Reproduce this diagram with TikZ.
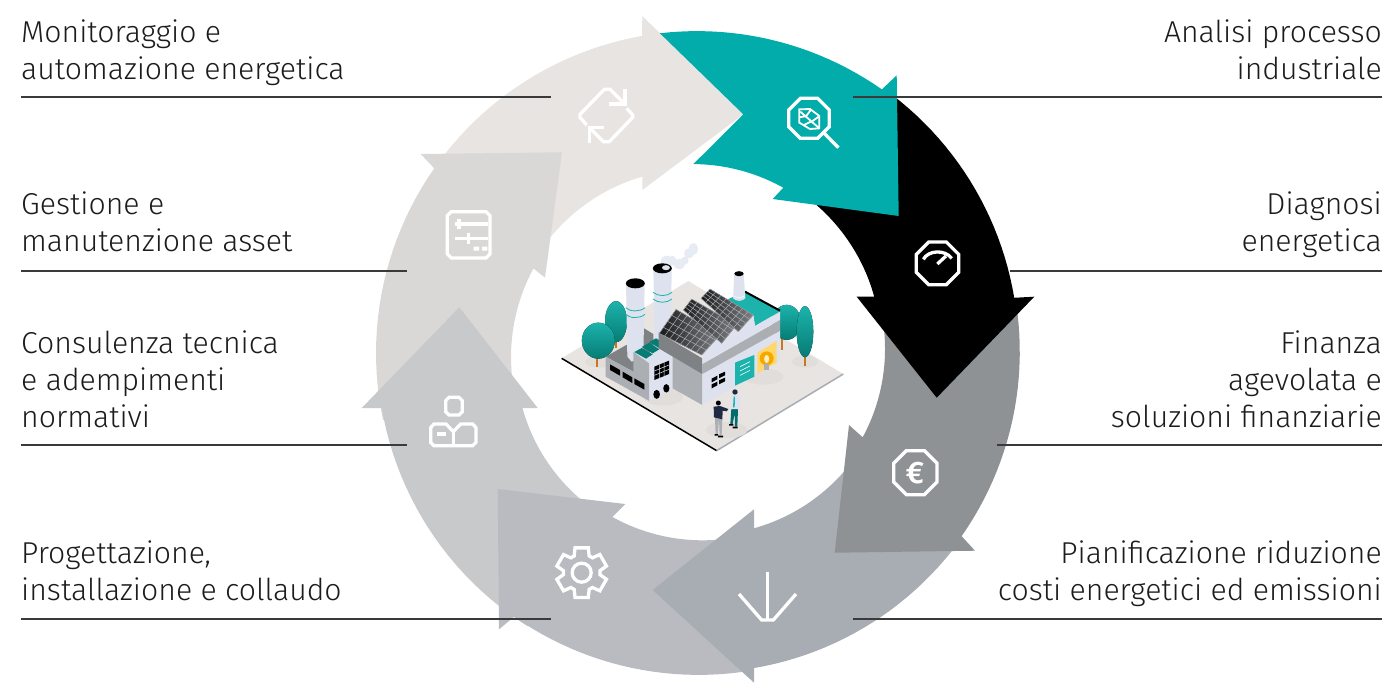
\documentclass[tikz,border=0pt]{standalone}
\usepackage{fontspec}
\setmainfont{Fira Sans}[UprightFont=* Light,BoldFont=* SemiBold]
\usetikzlibrary{calc}
\definecolor{cteal}{HTML}{02ACAA}
\definecolor{cgrey}{HTML}{8F9295}
\definecolor{cblue}{HTML}{A8ADB3}
\definecolor{cgear}{HTML}{B9BBC0}
\definecolor{cpers}{HTML}{C8C9CB}
\definecolor{cslid}{HTML}{DAD7D7}
\definecolor{cbeig}{HTML}{E8E4E1}
\definecolor{ftext}{HTML}{1C1C1C}
\definecolor{frule}{HTML}{3A3A3A}
\definecolor{wall}{HTML}{DDE2EE}
\definecolor{wallm}{HTML}{ABAEB3}
\definecolor{walld}{HTML}{7F8285}
\definecolor{tlight}{HTML}{1CB3AC}
\definecolor{tdark}{HTML}{067C74}
\definecolor{trunk}{HTML}{C9761F}
\definecolor{navy}{HTML}{1F2A44}
\definecolor{shadow}{HTML}{E1DDDA}
\definecolor{lamp}{HTML}{FFD76A}
\definecolor{bulb}{HTML}{F5A800}
\newcommand\RingArc[4]{plot[domain=0:1,samples=24] ({698+(#2+(#4-#2)*\x)*cos(#1+(#3-#1)*\x)},{353+(#2+(#4-#2)*\x)*sin(#1+(#3-#1)*\x)})}
\newcommand\RingTo[4]{-- plot[domain=0:1,samples=24] ({698+(#2+(#4-#2)*\x)*cos(#1+(#3-#1)*\x)},{353+(#2+(#4-#2)*\x)*sin(#1+(#3-#1)*\x)})}
\newcommand\SolarPanel[4]{%
  \fill[left color=black!85!wallm,right color=walld] (#1)--(#2)--(#3)--(#4)--cycle;
  \foreach \t in {0,0.25,...,1.01}{\draw[panelgrid] ($(#1)!\t!(#2)$)--($(#4)!\t!(#3)$);}
  \foreach \t in {0,0.125,...,1.01}{\draw[panelgrid] ($(#1)!\t!(#4)$)--($(#2)!\t!(#3)$);}
}
\newcommand\Lab[1]{\begin{tabular}[t]{@{}l@{}}#1\end{tabular}}
\newcommand\Rab[1]{\begin{tabular}[t]{@{}r@{}}#1\end{tabular}}
\tikzset{
  ltext/.style={anchor=base west,inner sep=0pt,text=ftext,font=\fontsize{30.2}{37}\selectfont},
  rtext/.style={anchor=base east,inner sep=0pt,text=ftext,font=\fontsize{30.2}{37}\selectfont},
  rulel/.style={draw=frule,line width=1.1pt},
  ico/.style={draw=white,line width=3.3pt,line join=miter,fill=none},
  zoomed/.style={x=0.33333pt,y=-0.33333pt},
  panelgrid/.style={draw=wallm,line width=0.5pt},
}
\begin{document}
\begin{tikzpicture}[x=1pt,y=-1pt]
\useasboundingbox (0,0) rectangle (1392,683);
% ---- ring of arrows, bottom to top
\fill[cbeig] \RingArc{216.5}{322}{260}{322} -- (642.3,16) -- (743.3,114.3) -- (642.3,190) -- (642.3,176.7) \RingTo{252.5}{185}{212}{188} -- cycle;
\fill[cslid] \RingArc{168}{322}{215}{322} -- (420.7,154) -- (562,152.3) -- (545,277.7) -- (533.3,268.3) \RingTo{207.2}{185}{165}{188} -- cycle;
\fill[cpers] \RingArc{122}{322}{170.1}{321} -- (361.7,408) -- (459.3,307.3) -- (537.7,408) -- (522.3,408) \RingTo{162.6}{184}{125}{188} -- cycle;
\fill[cgear] \RingArc{81}{322}{124.9}{321.5} -- (499,629.3) -- (497.7,489) -- (625.3,504) -- (612.7,516.7) \RingTo{117.5}{185}{75}{188.5} -- cycle;
\fill[cblue] \RingArc{36}{322}{79.9}{320} -- (754,682.7) -- (652.7,590) -- (754,509.3) -- (754,528.3) \RingTo{72.3}{184}{36}{188.5} -- cycle;
\fill[cgrey] \RingArc{-9}{322}{34.8}{321} -- (975,550.7) -- (834.7,552.7) -- (849,425) -- (862.7,437.3) \RingTo{27.1}{185}{-14}{188} -- cycle;
\fill[black] \RingArc{-53}{323}{-9.9}{321} -- (1034.3,296.7) -- (936.7,397.7) -- (856.7,296.7) -- (874.3,296.7) \RingTo{-17.7}{185}{-52}{189.7} -- cycle;
\fill[cteal] \RingArc{-96.8}{322}{-55.1}{321.4} -- (896.7,75.3) -- (898.7,216) -- (772.7,199) -- (783.3,187.7) \RingTo{-62.7}{186}{-91.4}{189} -- (743.3,114.3) -- cycle;
% ---- icons
% magnifier with leaf
\begin{scope}[shift={(775,85)},zoomed]
  \draw[ico] (76,40)--(128,40)--(163,75)--(163,125)--(128,160)--(76,160)--(41,125)--(41,75)--cycle;
  \draw[ico] (143,140)--(190,188);
  \draw[ico,line width=1.8pt] (73,73)--(105,72)--(133,93)--(133,130)--(105,132)--(73,113)--cycle;
  \draw[ico,line width=1.8pt] (76,80)--(133,130) (92,95)--(108,74) (110,110)--(131,95) (90,94)--(73,97) (108,110)--(86,120);
\end{scope}
% gauge
\begin{scope}[shift={(640,10)},zoomed]
  \draw[ico] (866,696)--(919,696)--(956,733)--(956,787)--(919,824)--(866,824)--(829,787)--(829,733)--cycle;
  \draw[ico] (850,748) .. controls (865,720) and (915,718) .. (935,745);
  \draw[ico] (892,762)--(918,738);
\end{scope}
% euro
\begin{scope}[shift={(640,380)},zoomed]
  \draw[ico] (799,212)--(853,212)--(891,250)--(891,306)--(853,344)--(799,344)--(761,306)--(761,250)--cycle;
  \node[inner sep=0pt,text=white,font=\fontsize{31}{31}\bfseries\selectfont] (euro) at (825,278) {€};
  % down arrow
  \draw[ico] (382,577)--(382,722);
  \draw[ico] (297,642)--(365,720)--(400,720)--(468,642);
\end{scope}
% gear
\begin{scope}[shift={(545,535)},zoomed]
  \draw[ico] ([shift={(110,113)}]54:55)
    \foreach \a in {90,150,210,270,330,390}{ -- ([shift={(110,113)}]\a-36:55) -- ([shift={(110,113)}]\a-24:55) -- ([shift={(110,113)}]\a-15:77) -- ([shift={(110,113)}]\a+15:77)}
    -- cycle;
  \draw[ico] (110,113) circle[radius=9.5pt];
\end{scope}
% person with book
\begin{scope}[shift={(420,385)},zoomed]
  \draw[ico] (87,37)--(117,37)--(127,47)--(127,80)--(117,90)--(87,90)--(77,80)--(77,47)--cycle;
  \draw[ico] (32,128)--(42,117)--(78,117)--(100,140)--(122,117)--(158,117)--(168,128)--(168,172)--(158,182)--(42,182)--(32,172)--cycle;
  \draw[ico] (100,140)--(100,182);
  \fill[white] (50,140) rectangle (78,154);
\end{scope}
% sliders
\begin{scope}[shift={(435,200)},zoomed]
  \draw[ico] (49,35)--(153,35)--(165,47)--(165,162)--(153,174)--(49,174)--(37,162)--(37,47)--cycle;
  \draw[ico] (60,72)--(158,72) (60,115)--(158,115) (72,58)--(72,87) (100,98)--(100,132);
  \fill[white] (116,140) rectangle (132,152) (141,140) rectangle (157,152);
\end{scope}
% recycle
\begin{scope}[shift={(570,80)},zoomed]
  \draw[ico] (50,135)--(30,112)--(30,103)--(103,28)--(120,28)--(162,70);
  \draw[ico] (165,28)--(165,72)--(116,72);
  \draw[ico] (170,85)--(188,105)--(188,112)--(118,185)--(100,185)--(58,143);
  \draw[ico] (58,190)--(58,143)--(103,143);
\end{scope}
% ---- factory
\begin{scope}[shift={(540,220)},zoomed]
  \fill[cbeig] (65,415)--(445,183)--(910,462)--(530,692)--cycle;
  \draw[black,line width=1.5pt] (65,415)--(530,692);
  \draw[cblue,line width=1.5pt] (530,692)--(910,462);
  \fill[shadow] (175,425) ellipse[x radius=13pt,y radius=6pt] (795,425) ellipse[x radius=13pt,y radius=6pt] (560,630) ellipse[x radius=21pt,y radius=8pt] (370,530) ellipse[x radius=20pt,y radius=9pt] (670,470) ellipse[x radius=20pt,y radius=8pt];
  % trees
  \draw[trunk,line width=2pt] (228,350)--(228,385) (172,400)--(172,440) (727,340)--(727,390) (796,395)--(796,438);
  \fill[top color=tlight,bottom color=tdark] (228,305) ellipse[x radius=11pt,y radius=20.5pt];
  \fill[top color=tlight,bottom color=tdark] (175,362) ellipse[x radius=16.5pt,y radius=18pt];
  \fill[top color=tlight,bottom color=tdark] (740,307) ellipse[x radius=14.5pt,y radius=17.5pt];
  \fill[top color=tlight,bottom color=tdark] (795,335) ellipse[x radius=8.3pt,y radius=25.5pt];
  % smoke
  \fill[wall!70!white] (380,125) ellipse[x radius=6pt,y radius=6pt] (397,122) ellipse[x radius=4pt,y radius=5pt] (418,132) ellipse[x radius=6pt,y radius=5pt] (434,122) ellipse[x radius=4pt,y radius=4pt] (447,100) ellipse[x radius=5pt,y radius=5pt] (460,87) ellipse[x radius=4.5pt,y radius=6pt];
  % chimneys
  \fill[wall] (340,145) -- (395,145) -- (392,400) -- (345,400) -- cycle;
  \fill[black] (367,145) ellipse[x radius=9.5pt,y radius=5pt];
  \fill[wall] (378,143) ellipse[x radius=4pt,y radius=2.5pt];
  \draw[tlight,line width=0.8pt] (339,217) .. controls (355,230) and (380,230) .. (396,217) (339,237) .. controls (355,250) and (380,250) .. (396,237);
  % dark back wall of small building
  \fill[walld] (197,410)--(312,345)--(312,325)--(340,342)--(340,400)--(328,430)--(280,455)--cycle;
  \fill[wall] (258,190)--(314,190)--(310,410)--(275,425)--(262,410)--cycle;
  \fill[black] (286,190) ellipse[x radius=9.5pt,y radius=5pt];
  \draw[tlight,line width=0.8pt] (257,263) .. controls (270,276) and (300,276) .. (315,263) (257,283) .. controls (270,296) and (300,296) .. (315,283);
  % small building
  \fill[wallm] (197,410)--(280,455)--(280,395)--(328,425)--(328,543)--(197,470)--cycle;
  \fill[wall] (328,425)--(398,393)--(398,505)--(328,543)--cycle;
  \fill[wall] (280,395)--(305,385)--(328,400)--(350,365)--(398,393)--(328,430)--cycle;
  \fill[tdark] (283,396)--(305,384)--(338,403)--(318,416)--cycle (305,381)--(328,368)--(358,388)--(338,400)--cycle (328,366)--(348,355)--(380,375)--(360,386)--cycle;
  \fill[black] (210,433)--(240,450)--(240,467)--(210,450)--cycle (248,455)--(277,472)--(277,489)--(248,472)--cycle (283,475)--(313,492)--(313,509)--(283,492)--cycle;
  \fill[black] (343,440)--(387,422)--(387,462)--(343,480)--cycle;
  \draw[wall,line width=0.5pt] (358,434)--(358,474) (372,428)--(372,468) (343,453)--(387,435) (343,466)--(387,448);
  \fill[black] (350,523) ellipse[x radius=3.3pt,y radius=4.5pt] (379,505) ellipse[x radius=3.1pt,y radius=4.2pt];
  % main building
  \fill[wallm] (398,390)--(487,435)--(487,555)--(398,505)--cycle;
  \fill[walld] (356,338)--(487,415)--(487,462)--(356,385)--cycle;
  \fill[wall] (487,460)--(720,332)--(720,420)--(487,555)--cycle;
  \fill[wallm] (487,432)--(720,300)--(720,332)--(487,462)--cycle;
  \fill[tlight] (560,240)--(615,213)--(720,275)--(645,318)--(640,285)--cycle;
  \draw[black,line width=2pt] (615,215)--(720,272);
  \fill[wall] (487,408)--(540,345)--(540,375)--(590,315)--(592,345)--(640,285)--(645,318)--(720,275)--(720,300)--(487,432)--cycle;
  \SolarPanel{358,340}{408,268}{540,345}{485,405}
  \SolarPanel{430,270}{455,237}{590,315}{545,370}
  \SolarPanel{483,235}{510,207}{640,285}{595,335}
  % third chimney
  \fill[wall] (583,160)--(611,160)--(616,235) .. controls (605,245) and (590,245) .. (579,235) --cycle;
  \fill[black] (597,161) ellipse[x radius=4.7pt,y radius=2.5pt];
  \draw[white,line width=0.5pt] (580,227) .. controls (590,235) and (605,235) .. (615,227);
  % front wall details
  \fill[black] (515,476)--(532,467)--(532,478)--(515,487)--cycle (537,463)--(555,455)--(555,466)--(537,475)--cycle (515,493)--(532,485)--(532,496)--(515,505)--cycle (537,481)--(555,473)--(555,484)--(537,493)--cycle;
  \fill[tlight] (585,428)--(643,405)--(643,470)--(585,497)--cycle;
  \draw[white,line width=0.6pt] (600,440)--(630,425) (600,453)--(630,438) (600,466)--(630,451);
  \fill[lamp] (652,398)--(710,363)--(710,428)--(652,460)--cycle;
  \fill[bulb] (680,415) circle[radius=7pt];
  \fill[lamp!40!white] (680,417) ellipse[x radius=2.5pt,y radius=4pt];
  \fill[wallm] (672,432) rectangle (688,450);
  % people
  \fill[wallm] (525,592)--(537,595)--(533,645)--(527,645)--cycle (537,595)--(547,598)--(545,645)--(539,647)--cycle;
  \fill[navy] (521,560)--(540,558)--(565,567)--(560,574)--(548,572)--(547,598)--(522,592)--cycle;
  \fill[black] (535,549) circle[radius=2.5pt];
  \fill[black] (524,642) rectangle (534,647) (534,647) rectangle (549,652);
  \fill[teal!85!black] (574,567)--(594,567)--(592,620)--(585,620)--(584,580)--(578,612)--(571,612)--cycle;
  \fill[wall] (574,530)--(590,525)--(600,532)--(600,568)--(572,567)--cycle;
  \fill[tlight] (581,530)--(585,530)--(584,562)--(579,562)--cycle;
  \fill[navy] (585,516) circle[radius=2.7pt];
  \fill[black] (567,612) rectangle (580,617) (578,620) rectangle (593,625);
\end{scope}
% ---- rules
\draw[rulel] (21,97)--(551,97);
\draw[rulel] (21,271)--(407,271);
\draw[rulel] (21,445)--(407,445);
\draw[rulel] (21,619)--(551,619);
\draw[rulel] (853,97)--(1382,97);
\draw[rulel] (1010,271)--(1382,271);
\draw[rulel] (997,445)--(1382,445);
\draw[rulel] (853,619)--(1382,619);
% ---- labels
\node[ltext] (l1) at (21,42) {\Lab{Monitoraggio e\\automazione energetica}};
\node[ltext] (l2) at (21,214) {\Lab{Gestione e\\manutenzione asset}};
\node[ltext] (l3) at (21,353) {\Lab{Consulenza tecnica\\e adempimenti\\normativi}};
\node[ltext] (l4) at (21,563) {\Lab{Progettazione,\\installazione e collaudo}};
\node[rtext] (r1) at (1382,42) {\Rab{Analisi processo\\industriale}};
\node[rtext] (r2) at (1382,214) {\Rab{Diagnosi\\energetica}};
\node[rtext] (r3) at (1382,353) {\Rab{Finanza\\agevolata e\\soluzioni finanziarie}};
\node[rtext] (r4) at (1382,563) {\Rab{Pianificazione riduzione\\costi energetici ed emissioni}};
\end{tikzpicture}
\end{document}
